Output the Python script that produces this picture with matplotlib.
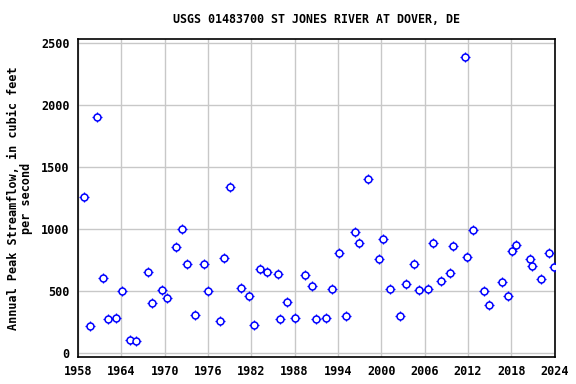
import matplotlib
matplotlib.use("Agg")
import matplotlib.pyplot as plt
import numpy as np

# peak dates as decimal years
years = [1958.8, 1959.6, 1960.7, 1961.4, 1962.2, 1963.2, 1964.1, 1965.2, 1966.1,
         1967.7, 1968.3, 1969.6, 1970.3, 1971.6, 1972.4, 1973.1, 1974.2, 1975.4,
         1976.0, 1977.6, 1978.2, 1979.1, 1980.6, 1981.7, 1982.4, 1983.2, 1984.2,
         1985.7, 1986.0, 1987.0, 1988.1, 1989.5, 1990.4, 1991.0, 1992.4, 1993.2,
         1994.1, 1995.1, 1996.4, 1996.9, 1998.2, 1999.7, 2000.3, 2001.2, 2002.6,
         2003.4, 2004.5, 2005.2, 2006.5, 2007.2, 2008.3, 2009.5, 2009.9, 2011.6,
         2011.9, 2012.7, 2014.2, 2014.9, 2016.7, 2017.5, 2018.1, 2018.7, 2020.6,
         2020.9, 2022.1, 2023.2, 2023.9]
peaks = [1260, 220, 1900, 605, 276, 282, 500, 105, 97,
         653, 403, 508, 443, 855, 1000, 718, 306, 718,
         500, 258, 766, 1341, 524, 462, 226, 677, 653,
         637, 274, 411, 282, 629, 540, 274, 282, 519,
         806, 298, 976, 889, 1403, 758, 919, 519, 298,
         556, 718, 508, 516, 887, 581, 645, 863, 2387,
         774, 992, 500, 387, 573, 462, 823, 871, 758,
         702, 597, 806, 694]

xticks = np.arange(1958, 2025, 6)
yticks = [0, 500, 1000, 1500, 2000, 2500]

font = {"family": "DejaVu Sans Mono", "weight": "bold", "size": 8.4}

fig = plt.figure(figsize=(5.76, 3.84), dpi=100)
ax = fig.add_axes([0.1354, 0.0711, 0.8273, 0.8266])

ax.plot(years, peaks, linestyle="none", marker="+", markersize=7.4,
        markeredgecolor="blue", markeredgewidth=0.9, zorder=3)
ax.plot(years, peaks, linestyle="none", marker="o", markersize=5.0,
        markerfacecolor="white", markeredgecolor="blue", markeredgewidth=1.1, zorder=4)

ax.set_xlim(1958, 2024)
ax.set_ylim(-27, 2530)
ax.set_xticks(xticks)
ax.set_yticks(yticks)
ax.grid(True, color="#c8c8c8", linewidth=1.0)
ax.set_axisbelow(True)
ax.tick_params(length=0, pad=6)
for lab in ax.get_xticklabels() + ax.get_yticklabels():
    lab.set_fontproperties(font)
    lab.set_fontsize(8.5)
for s in ax.spines.values():
    s.set_linewidth(1.2)

ax.set_title("USGS 01483700 ST JONES RIVER AT DOVER, DE", fontdict=font, pad=12)
ax.set_ylabel("Annual Peak Streamflow, in cubic feet\nper second", fontdict=font,
              fontsize=8.5, labelpad=6, linespacing=1.0)

fig.savefig("out.png", dpi=100)
